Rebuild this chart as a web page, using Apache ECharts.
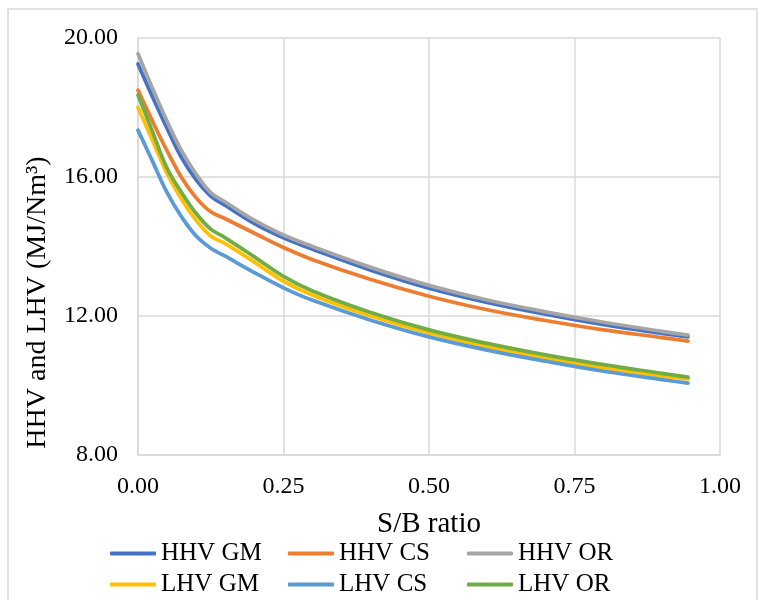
<!DOCTYPE html>
<html>
<head>
<meta charset="utf-8">
<script src="https://cdn.jsdelivr.net/npm/echarts@6/dist/echarts.min.js"></script>
<style>html,body{margin:0;padding:0;background:#fff;}#c{width:763px;height:600px;}</style>
</head>
<body>
<div id="c"></div>
<script>
var sbRatio = [0, 0.025, 0.05, 0.075, 0.1, 0.125, 0.15, 0.2, 0.25, 0.3, 0.4, 0.5, 0.6, 0.7, 0.8, 0.9, 0.945];
var hhvGM = [19.25, 18.30, 17.40, 16.55, 15.92, 15.45, 15.18, 14.66, 14.25, 13.92, 13.32, 12.80, 12.39, 12.05, 11.75, 11.50, 11.40];
var hhvCS = [18.50, 17.60, 16.75, 15.98, 15.40, 15.00, 14.80, 14.38, 13.97, 13.62, 13.05, 12.57, 12.18, 11.87, 11.60, 11.38, 11.28];
var hhvOR = [19.55, 18.55, 17.60, 16.75, 16.08, 15.55, 15.28, 14.75, 14.33, 14.00, 13.40, 12.88, 12.46, 12.12, 11.82, 11.56, 11.45];
var lhvGM = [18.00, 17.05, 16.10, 15.35, 14.75, 14.30, 14.08, 13.55, 13.00, 12.60, 12.00, 11.51, 11.12, 10.79, 10.51, 10.28, 10.19];
var lhvCS = [17.35, 16.45, 15.55, 14.85, 14.30, 13.95, 13.72, 13.25, 12.81, 12.45, 11.88, 11.40, 11.02, 10.70, 10.41, 10.17, 10.07];
var lhvOR = [18.36, 17.30, 16.25, 15.55, 14.95, 14.50, 14.25, 13.70, 13.14, 12.72, 12.10, 11.60, 11.21, 10.88, 10.60, 10.35, 10.24];

var seriesNames = ['HHV GM', 'HHV CS', 'HHV OR', 'LHV GM', 'LHV CS', 'LHV OR'];
var seriesValues = [hhvGM, hhvCS, hhvOR, lhvGM, lhvCS, lhvOR];
var seriesColors = ['#4472C4', '#ED7D31', '#A5A5A5', '#FFC000', '#5B9BD5', '#70AD47'];

var xAxisName = 'S/B ratio';
var yAxisName = 'HHV and LHV (MJ/Nm³)';

var FONT = '"Liberation Serif", "Times New Roman", serif';

function pairs(vals) {
  return sbRatio.map(function (x, i) { return [x, vals[i]]; });
}

var series = seriesNames.map(function (name, i) {
  return {
    name: name,
    type: 'line',
    data: pairs(seriesValues[i]),
    smooth: 0.4,
    symbol: 'none',
    lineStyle: { color: seriesColors[i], width: 3.75, cap: 'round', join: 'round' },
    itemStyle: { color: seriesColors[i] }
  };
});

var legendCols = [110, 288, 467];
var legendRows = [541, 572];
var legends = seriesNames.map(function (name, i) {
  return {
    data: [name],
    left: legendCols[i % 3],
    top: legendRows[Math.floor(i / 3)],
    icon: 'roundRect',
    itemWidth: 46,
    itemHeight: 4,
    itemGap: 0,
    padding: 0,
    itemStyle: { color: seriesColors[i], borderWidth: 0 },
    textStyle: { fontFamily: FONT, fontSize: 25, color: '#000', padding: [0, 0, 0, 0] }
  };
});

var chart = echarts.init(document.getElementById('c'), null, { renderer: 'canvas' });
chart.setOption({
  animation: false,
  backgroundColor: '#fff',
  graphic: [{
    type: 'rect',
    shape: { x: 8, y: 9, width: 749, height: 620 },
    style: { fill: 'none', stroke: '#D9D9D9', lineWidth: 1.5 },
    silent: true
  }],
  grid: { left: 138, right: 43, top: 38, bottom: 145, containLabel: false },
  xAxis: {
    type: 'value',
    min: 0, max: 1, interval: 0.25,
    name: xAxisName,
    nameLocation: 'middle',
    nameGap: 55,
    nameTextStyle: { fontFamily: FONT, fontSize: 29, color: '#000' },
    axisLine: { show: true, lineStyle: { color: '#D9D9D9', width: 1.5 } },
    axisTick: { show: false },
    axisLabel: { fontFamily: FONT, fontSize: 24, color: '#000', margin: 20,
      formatter: function (v) { return v.toFixed(2); } },
    splitLine: { show: true, lineStyle: { color: '#D9D9D9', width: 1.5 } }
  },
  yAxis: {
    type: 'value',
    min: 8, max: 20, interval: 4,
    name: yAxisName,
    nameLocation: 'middle',
    nameGap: 86,
    nameTextStyle: { fontFamily: FONT, fontSize: 28, color: '#000', padding: [0, 112, 0, 0] },
    axisLine: { show: true, lineStyle: { color: '#D9D9D9', width: 1.5 } },
    axisTick: { show: false },
    axisLabel: { fontFamily: FONT, fontSize: 24, color: '#000', margin: 20,
      formatter: function (v) { return v.toFixed(2); } },
    splitLine: { show: true, lineStyle: { color: '#D9D9D9', width: 1.5 } }
  },
  legend: legends,
  series: series
});
</script>
</body>
</html>
